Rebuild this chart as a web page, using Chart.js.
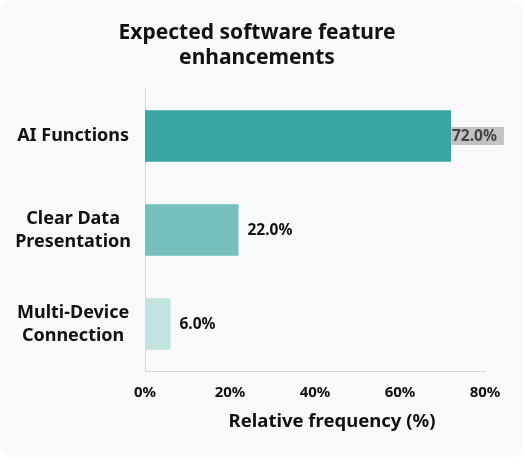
<!DOCTYPE html>
<html><head><meta charset="utf-8">
<script src="https://cdn.jsdelivr.net/npm/chart.js@4/dist/chart.umd.min.js"></script>
<style>
html,body{margin:0;padding:0;background:#fff;}
#card{position:absolute;left:0;top:0;width:523px;height:457px;background:#f8f9fb;border-radius:12px;overflow:hidden;}
#c{display:block;}
</style></head><body>
<div id="card"><canvas id="c" width="523" height="457"></canvas></div>
<script>
const categories = [["AI Functions"], ["Clear Data", "Presentation"], ["Multi-Device", "Connection"]];
const values = [72.0, 22.0, 6.0];
const barColors = ["#3aa6a2", "#75c0bd", "#c2e3e1"];
const xTicks = [0, 20, 40, 60, 80];
const titleLines = ["Expected software feature", "enhancements"];
const xTitle = "Relative frequency (%)";
const FONT = "'Noto Sans', 'Open Sans', sans-serif";

const labelPlugin = {
  id: 'valLabels',
  afterDatasetsDraw(chart) {
    const ctx = chart.ctx;
    const meta = chart.getDatasetMeta(0);
    ctx.save();
    ctx.font = "bold 15.5px " + FONT;
    ctx.textBaseline = 'middle';
    ctx.textAlign = 'left';
    meta.data.forEach((bar, i) => {
      const txt = values[i].toFixed(1) + '%';
      const w = ctx.measureText(txt).width;
      let x = bar.x + 9;
      if (x + w > chart.chartArea.right) {
        x = bar.x;
        ctx.fillStyle = '#c3c3c3';
        ctx.fillRect(x, bar.y - 9, w + 8, 18);
        ctx.fillStyle = '#444444';
        ctx.fillText(txt, x + 1, bar.y + 0.5);
      } else {
        ctx.fillStyle = '#111111';
        ctx.fillText(txt, x, bar.y + 0.5);
      }
    });
    ctx.restore();
  },
  afterDraw(chart) {
    const ctx = chart.ctx;
    const a = chart.chartArea;
    ctx.save();
    ctx.font = "bold 18.5px " + FONT;
    ctx.fillStyle = '#111';
    ctx.textAlign = 'center';
    ctx.textBaseline = 'middle';
    ctx.fillText(xTitle, (a.left + a.right) / 2 + 17, a.bottom + 51);
    ctx.restore();
  }
};

new Chart(document.getElementById('c'), {
  type: 'bar',
  data: {
    labels: categories,
    datasets: [{
      data: values,
      backgroundColor: barColors,
      barPercentage: 0.55,
      categoryPercentage: 1.0,
      borderWidth: 0
    }]
  },
  options: {
    indexAxis: 'y',
    responsive: false,
    animation: false,
    devicePixelRatio: 1,
    layout: { padding: { top: 15, right: 9, bottom: 24, left: 0 } },
    plugins: {
      legend: { display: false },
      tooltip: { enabled: false },
      title: {
        display: true,
        text: titleLines,
        color: '#111',
        font: { family: FONT, size: 21, weight: 'bold', lineHeight: 1.19 },
        padding: { top: 6, bottom: 18 }
      }
    },
    scales: {
      x: {
        min: 0, max: 80,
        afterBuildTicks(s) { s.ticks = xTicks.map(v => ({ value: v })); },
        afterFit(s) { s.height = 62; },
        grid: { display: false, drawTicks: false },
        border: { display: true, color: '#d6d6d6', width: 1 },
        ticks: {
          color: '#111',
          font: { family: FONT, size: 15, weight: 'bold' },
          padding: 13,
          callback: v => v + '%'
        },
        title: { display: false }
      },
      y: {
        afterFit(s) { s.width = 145; },
        grid: { display: false, drawTicks: false },
        border: { display: true, color: '#d6d6d6', width: 1 },
        ticks: {
          color: '#111',
          crossAlign: 'center',
          padding: 14,
          font: { family: FONT, size: 18, weight: 'bold', lineHeight: 1.28 }
        }
      },
      yRight: {
        type: 'category',
        position: 'right',
        labels: categories,
        afterFit(s) { s.width = 29; },
        grid: { display: false, drawTicks: false },
        border: { display: false },
        ticks: { display: false }
      }
    }
  },
  plugins: [labelPlugin]
});
</script>
</body></html>
